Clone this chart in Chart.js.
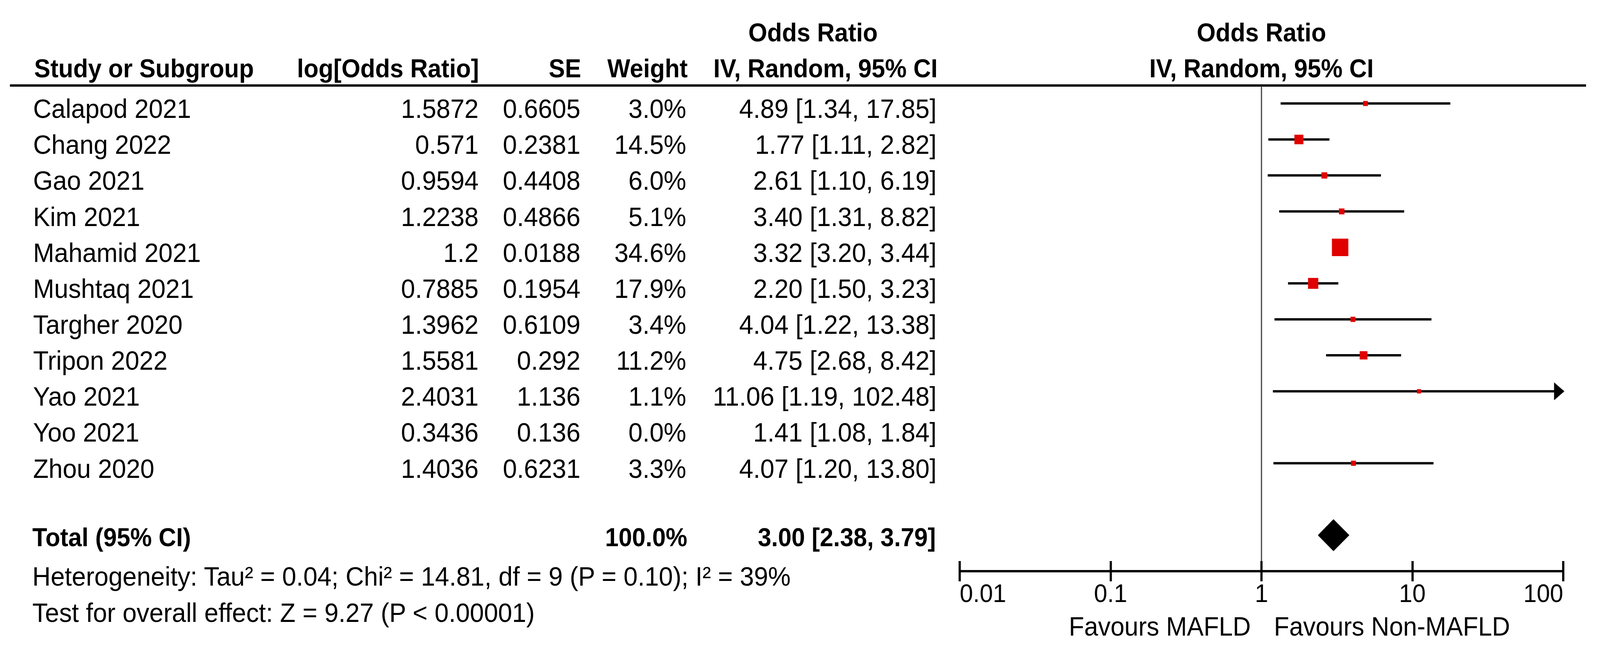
<!DOCTYPE html>
<html><head><meta charset="utf-8">
<script src="https://cdn.jsdelivr.net/npm/chart.js@4.4.1/dist/chart.umd.min.js"></script>
<style>
html,body{margin:0;padding:0;background:#fff;overflow:hidden;}
#wrap{position:relative;width:4353px;height:1670px;overflow:hidden;background:#fff;transform-origin:0 0;}
#c{position:absolute;left:0;top:0;width:4353px;height:1670px;}
.t{position:absolute;white-space:nowrap;font-family:'Liberation Sans',Arial,sans-serif;color:#000;}
.b{font-weight:bold;}
</style></head><body>
<div id="wrap"><canvas id="c" width="4353" height="1670"></canvas></div>
<script>
// ---------- data ----------
const studies = ['Calapod 2021','Chang 2022','Gao 2021','Kim 2021','Mahamid 2021','Mushtaq 2021','Targher 2020','Tripon 2022','Yao 2021','Yoo 2021','Zhou 2020'];
const logOR   = [1.5872, 0.571, 0.9594, 1.2238, 1.2, 0.7885, 1.3962, 1.5581, 2.4031, 0.3436, 1.4036];
const seVals  = [0.6605, 0.2381, 0.4408, 0.4866, 0.0188, 0.1954, 0.6109, 0.292, 1.136, 0.136, 0.6231];
const weights = [3.0, 14.5, 6.0, 5.1, 34.6, 17.9, 3.4, 11.2, 1.1, 0.0, 3.3];
const orVals  = [4.89, 1.77, 2.61, 3.40, 3.32, 2.20, 4.04, 4.75, 11.06, 1.41, 4.07];
const ciLow   = [1.34, 1.11, 1.10, 1.31, 3.20, 1.50, 1.22, 2.68, 1.19, 1.08, 1.20];
const ciHigh  = [17.85, 2.82, 6.19, 8.82, 3.44, 3.23, 13.38, 8.42, 102.48, 1.84, 13.80];
const totalOR = 3.00, totalLow = 2.38, totalHigh = 3.79, totalWeight = 100.0;
const xTicks = [0.01, 0.1, 1, 10, 100];
const xTickLabels = ['0.01', '0.1', '1', '10', '100'];
const heterogeneityText = 'Heterogeneity: Tau\u00B2 = 0.04; Chi\u00B2 = 14.81, df = 9 (P = 0.10); I\u00B2 = 39%';
const overallText = 'Test for overall effect: Z = 9.27 (P < 0.00001)';
const favoursLeft = 'Favours MAFLD';
const favoursRight = 'Favours Non-MAFLD';

// ---------- layout / style ----------
const W = 4353, H = 1670;
const X_MIN = 0.01, X_MAX = 100;
const Y_MIN = -0.5, Y_MAX = 13, TOTAL_ROW = 12;
const RED = '#e00000';
const FONT = "'Liberation Sans', Arial, sans-serif";
const REG = 69, BOLD = 66, TICK = 65;

const fmt2 = v => v.toFixed(2);
const ciText = (o, l, h) => fmt2(o) + ' [' + fmt2(l) + ', ' + fmt2(h) + ']';

// datasets
const squareData = [], squareRadius = [], ciData = [], arrowData = [];
studies.forEach((s, i) => {
  if (weights[i] <= 0) return;
  squareData.push({x: orVals[i], y: i});
  squareRadius.push((10 + weights[i]) / Math.SQRT2);
  ciData.push({x: ciLow[i], y: i}, {x: ciHigh[i], y: i}, {x: null, y: null});
  if (ciHigh[i] > X_MAX) arrowData.push({x: X_MAX, y: i});
});
const DH = 0.43;
const diamondData = [
  {x: totalLow, y: TOTAL_ROW}, {x: totalOR, y: TOTAL_ROW - DH},
  {x: totalHigh, y: TOTAL_ROW}, {x: totalOR, y: TOTAL_ROW + DH}, {x: totalLow, y: TOTAL_ROW}
];

// arrow head image
const arrow = document.createElement('canvas');
arrow.width = 56; arrow.height = 46;
(function(){ const c = arrow.getContext('2d'); c.fillStyle = '#000'; c.beginPath();
  c.moveTo(3, 0); c.lineTo(31, 23); c.lineTo(3, 46); c.closePath(); c.fill(); })();

const decor = {
  id: 'decor',
  beforeDatasetsDraw(chart) {
    const ctx = chart.ctx, a = chart.chartArea;
    ctx.save(); ctx.fillStyle = '#000';
    ctx.fillRect(27, a.top - 3, (a.right + 62) - 27, 6);
    ctx.restore();
  },
  afterDraw(chart) {
    const ctx = chart.ctx, xs = chart.scales.x, a = chart.chartArea;
    ctx.save(); ctx.strokeStyle = '#000'; ctx.lineWidth = 6;
    xs.ticks.forEach(t => {
      const px = Math.round(xs.getPixelForValue(t.value));
      ctx.beginPath(); ctx.moveTo(px, a.bottom - 26); ctx.lineTo(px, a.bottom + 3); ctx.stroke();
    });
    ctx.restore();
  }
};

const chart = new Chart(document.getElementById('c'), {
  type: 'scatter',
  data: { datasets: [
    { label: 'OR', data: squareData, order: 0, pointStyle: 'rect', pointRadius: squareRadius,
      backgroundColor: RED, borderWidth: 0, showLine: false },
    { label: 'arrow', data: arrowData, order: 1, pointStyle: arrow, pointRadius: 23, clip: false, showLine: false },
    { label: 'diamond', data: diamondData, order: 1, showLine: true, fill: 'shape', tension: 0,
      backgroundColor: '#000', borderColor: '#000', borderWidth: 2, pointRadius: 0 },
    { label: 'CI', data: ciData, order: 2, showLine: true, spanGaps: false, borderColor: '#000',
      borderWidth: 6, pointRadius: 0, borderCapStyle: 'butt' },
    { label: 'null', data: [{x: 1, y: Y_MIN}, {x: 1, y: Y_MAX}], order: 3, showLine: true,
      borderColor: '#333', borderWidth: 3, pointRadius: 0 }
  ]},
  options: {
    animation: false, responsive: false, devicePixelRatio: 1, events: [],
    layout: { padding: { left: 2611, right: 100, top: 219, bottom: 0 } },
    plugins: { legend: { display: false }, tooltip: { enabled: false } },
    scales: {
      x: { type: 'logarithmic', min: X_MIN, max: X_MAX, position: 'bottom',
        afterFit: s => { s.height = 207; },
        afterBuildTicks: s => { s.ticks = xTicks.map(v => ({value: v})); },
        border: { display: true, color: '#000', width: 6 },
        grid: { drawOnChartArea: false, drawTicks: true, tickLength: 26, color: '#000', lineWidth: 6 },
        ticks: { autoSkip: false, maxRotation: 0, align: 'inner', padding: 3, color: '#000',
          font: { family: FONT, size: TICK, lineHeight: 1 },
          callback: (v, i) => xTickLabels[i] }
      },
      y: { type: 'linear', min: Y_MIN, max: Y_MAX, reverse: true, display: false }
    }
  },
  plugins: [decor]
});

// ---------- text table (HTML) ----------
const wrap = document.getElementById('wrap');
const offCache = {};
function baseOff(size, bold) {
  const k = size + (bold ? 'b' : '');
  if (offCache[k] != null) return offCache[k];
  const d = document.createElement('div');
  d.className = 't' + (bold ? ' b' : '');
  d.style.fontSize = size + 'px'; d.style.lineHeight = size + 'px'; d.style.top = '0px'; d.style.left = '0px';
  d.innerHTML = 'Hg<span style="display:inline-block;width:0;height:0;vertical-align:baseline"></span>';
  wrap.appendChild(d);
  const v = d.lastChild.offsetTop;
  wrap.removeChild(d);
  offCache[k] = v; return v;
}
function put(text, x, base, align, bold, size) {
  const d = document.createElement('div');
  d.className = 't' + (bold ? ' b' : '');
  d.style.fontSize = size + 'px'; d.style.lineHeight = size + 'px';
  d.textContent = text;
  d.style.top = (base - baseOff(size, bold)) + 'px';
  if (align === 'left') d.style.left = x + 'px';
  else if (align === 'right') d.style.right = (W - x) + 'px';
  else { d.style.left = x + 'px'; d.style.transform = 'translateX(-50%)'; }
  wrap.appendChild(d);
  return d;
}

const ys = chart.scales.y, xs = chart.scales.x, area = chart.chartArea;
const x1 = xs.getPixelForValue(1);
// headers
put('Odds Ratio', 2212, area.top - 113, 'center', true, BOLD);
put('Odds Ratio', x1, area.top - 113, 'center', true, BOLD);
put('Study or Subgroup', 93, area.top - 21, 'left', true, BOLD);
put('log[Odds Ratio]', 1303, area.top - 21, 'right', true, BOLD);
put('SE', 1581, area.top - 21, 'right', true, BOLD);
put('Weight', 1871, area.top - 21, 'right', true, BOLD);
put('IV, Random, 95% CI', 2551, area.top - 21, 'right', true, BOLD);
put('IV, Random, 95% CI', x1, area.top - 21, 'center', true, BOLD);
// rows
studies.forEach((s, i) => {
  const b = ys.getPixelForValue(i) + 37;
  put(s, 90, b, 'left', false, REG);
  put(String(logOR[i]), 1302, b, 'right', false, REG);
  put(String(seVals[i]), 1579, b, 'right', false, REG);
  put(weights[i].toFixed(1) + '%', 1867, b, 'right', false, REG);
  put(ciText(orVals[i], ciLow[i], ciHigh[i]), 2548, b, 'right', false, REG);
});
// total
const tb = ys.getPixelForValue(TOTAL_ROW) + 28;
put('Total (95% CI)', 88, tb, 'left', true, BOLD);
put(totalWeight.toFixed(1) + '%', 1870, tb, 'right', true, BOLD);
put(ciText(totalOR, totalLow, totalHigh), 2546, tb, 'right', true, BOLD);
// footer
put(heterogeneityText, 88, area.bottom + 37, 'left', false, REG);
put(overallText, 88, area.bottom + 130, 'left', false, REG);
put(favoursLeft, x1 - 29, area.bottom + 165, 'right', false, 68);
put(favoursRight, x1 + 34, area.bottom + 165, 'left', false, 68);

// fit the 4353x1670 drawing into the actual viewport
const sx = window.innerWidth / W, sy = window.innerHeight / H;
if (sx > 0 && sy > 0 && (Math.abs(sx - 1) > 0.001 || Math.abs(sy - 1) > 0.001)) {
  wrap.style.transform = 'scale(' + sx + ',' + sy + ')';
}
</script>
</body></html>
